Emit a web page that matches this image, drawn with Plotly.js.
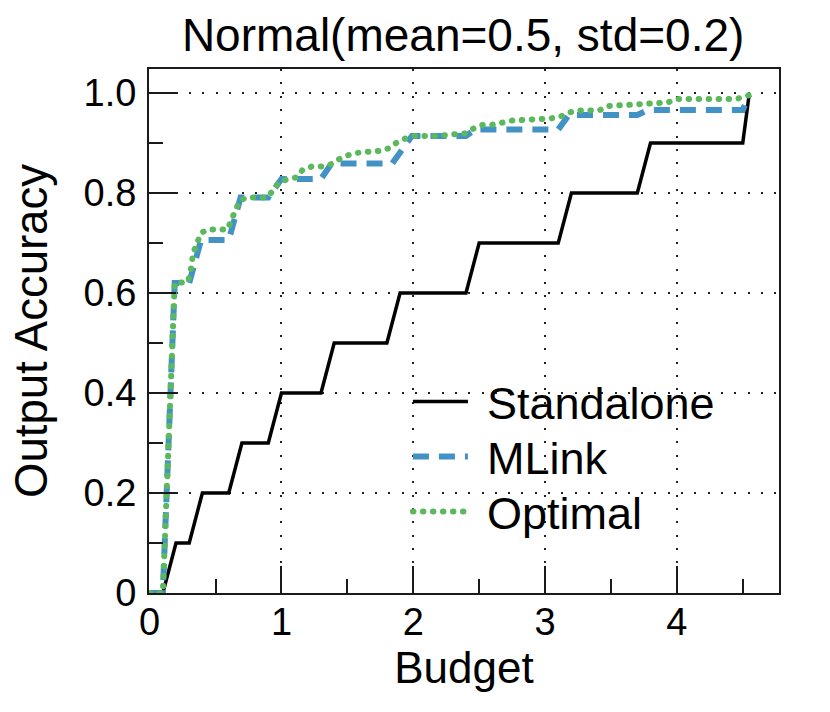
<!DOCTYPE html>
<html>
<head>
<meta charset="utf-8">
<script src="https://cdn.plot.ly/plotly-3.0.1.min.js"></script>
<style>
  html, body { margin: 0; padding: 0; background: #fff; }
  #chart { width: 830px; height: 712px; }
  path.js-line[style*="rgb(92, 184, 92)"] { stroke-linecap: round; }
  .legendlines path.js-line { d: path("M5,0h55"); }
</style>
</head>
<body>
<div id="chart"></div>
<script>
// ---- data ----
const standaloneX = [0.1, 0.2, 0.3, 0.4, 0.6, 0.7, 0.9, 1.0, 1.3, 1.4, 1.8, 1.9, 2.4, 2.5, 3.1, 3.2, 3.7, 3.8, 4.5, 4.55];
const standaloneY = [0, 0.1, 0.1, 0.2, 0.2, 0.3, 0.3, 0.4, 0.4, 0.5, 0.5, 0.6, 0.6, 0.7, 0.7, 0.8, 0.8, 0.9, 0.9, 1.0];

const mlinkX = [0, 0.1, 0.19, 0.3, 0.39, 0.6, 0.69, 0.9, 1.0, 1.3, 1.38, 1.84, 1.99, 2.4, 2.47, 3.1, 3.18, 3.7, 3.78, 4.5, 4.55];
const mlinkY = [0, 0, 0.62, 0.62, 0.706, 0.706, 0.791, 0.791, 0.828, 0.828, 0.859, 0.859, 0.914, 0.914, 0.927, 0.927, 0.956, 0.956, 0.966, 0.966, 0.996];

const optimalX = [0, 0.1, 0.19, 0.29, 0.31, 0.33, 0.36, 0.39, 0.44, 0.52, 0.59, 0.62, 0.65, 0.68, 0.73, 0.81, 0.89, 0.94, 0.98, 1.05, 1.11, 1.16, 1.23, 1.31, 1.38, 1.44, 1.51, 1.59, 1.66, 1.74, 1.81, 1.87, 1.94, 2.01, 2.16, 2.32, 2.39, 2.45, 2.52, 2.59, 2.67, 2.75, 2.82, 2.89, 2.97, 3.04, 3.12, 3.18, 3.26, 3.41, 3.48, 3.56, 3.63, 3.70, 3.85, 3.93, 4.0, 4.45, 4.52, 4.55];
const optimalY = [0, 0, 0.62, 0.622, 0.643, 0.68, 0.70, 0.72, 0.727, 0.727, 0.727, 0.746, 0.765, 0.783, 0.791, 0.791, 0.791, 0.806, 0.821, 0.828, 0.831, 0.846, 0.853, 0.853, 0.858, 0.868, 0.876, 0.881, 0.881, 0.884, 0.889, 0.90, 0.909, 0.914, 0.914, 0.916, 0.919, 0.928, 0.936, 0.936, 0.941, 0.945, 0.946, 0.946, 0.949, 0.949, 0.953, 0.961, 0.965, 0.965, 0.974, 0.975, 0.975, 0.978, 0.978, 0.981, 0.988, 0.988, 0.993, 0.996];

const seriesNames = ['Standalone', 'MLink', 'Optimal'];
const xTickVals = [0, 1, 2, 3, 4];
const xTickText = ['0', '1', '2', '3', '4'];
const yTickVals = [0, 0.2, 0.4, 0.6, 0.8, 1.0];
const yTickText = ['0', '0.2', '0.4', '0.6', '0.8', '1.0'];
const chartTitle = 'Normal(mean=0.5, std=0.2)';
const xTitle = 'Budget';
const yTitle = 'Output Accuracy';

// ---- styles ----
const FONT = '"Liberation Sans", Arial, Helvetica, sans-serif';
const AX = '#1a1a1a';

const traces = [
  { x: standaloneX, y: standaloneY, name: seriesNames[0], mode: 'lines', legend: 'legend',
    line: { color: '#000000', width: 3.5 } },
  { x: mlinkX, y: mlinkY, name: seriesNames[1], mode: 'lines', legend: 'legend2',
    line: { color: '#4292c6', width: 6, dash: '16px,10px' } },
  { x: optimalX, y: optimalY, name: seriesNames[2], mode: 'lines', legend: 'legend3',
    line: { color: 'rgb(92, 184, 92)', width: 6, dash: '0.5px,9.5px' } }
];

const axisCommon = {
  showline: true, linecolor: AX, linewidth: 2, mirror: true,
  ticks: 'inside', tickcolor: AX, tickwidth: 2, ticklen: 27,
  showgrid: true, gridcolor: '#222', gridwidth: 2, griddash: '2px,11.3px',
  zeroline: false, tickmode: 'array',
  tickfont: { family: FONT, size: 38, color: '#000' }
};

function legendAt(yc) {
  return { x: 0.411, y: (593 - yc) / 524, xanchor: 'left', yanchor: 'middle',
           bgcolor: 'rgba(0,0,0,0)', borderwidth: 0, itemwidth: 69,
           font: { family: FONT, size: 45, color: '#000' } };
}

const layout = {
  width: 830, height: 712,
  margin: { l: 149, r: 51, t: 69, b: 119 },
  paper_bgcolor: '#fff', plot_bgcolor: '#fff',
  font: { family: FONT, color: '#000' },
  title: { text: chartTitle, font: { family: FONT, size: 46, color: '#000' },
           x: 0.558, xanchor: 'center', y: 1 - 35 / 712, yanchor: 'middle', yref: 'container' },
  xaxis: Object.assign({}, axisCommon, {
    range: [-0.005, 4.775], tickvals: xTickVals, ticktext: xTickText, ticklabelstandoff: -6,
    minor: { tickmode: 'linear', tick0: 0, dtick: 0.5, ticklen: 14, tickwidth: 2, tickcolor: AX, ticks: 'inside', showgrid: false },
    title: { text: xTitle, standoff: 8, font: { family: FONT, size: 44, color: '#000' } }
  }),
  yaxis: Object.assign({}, axisCommon, {
    range: [0, 1.048], tickvals: yTickVals, ticktext: yTickText, ticklabelstandoff: 3,
    minor: { tickmode: 'linear', tick0: 0, dtick: 0.1, ticklen: 14, tickwidth: 2, tickcolor: AX, ticks: 'inside', showgrid: false },
    title: { text: yTitle, font: { family: FONT, size: 45.5, color: '#000' } }
  }),
  showlegend: true,
  legend: legendAt(401.7),
  legend2: legendAt(456.7),
  legend3: legendAt(511.7)
};

Plotly.newPlot('chart', traces, layout, { displayModeBar: false, staticPlot: true });
</script>
</body>
</html>
